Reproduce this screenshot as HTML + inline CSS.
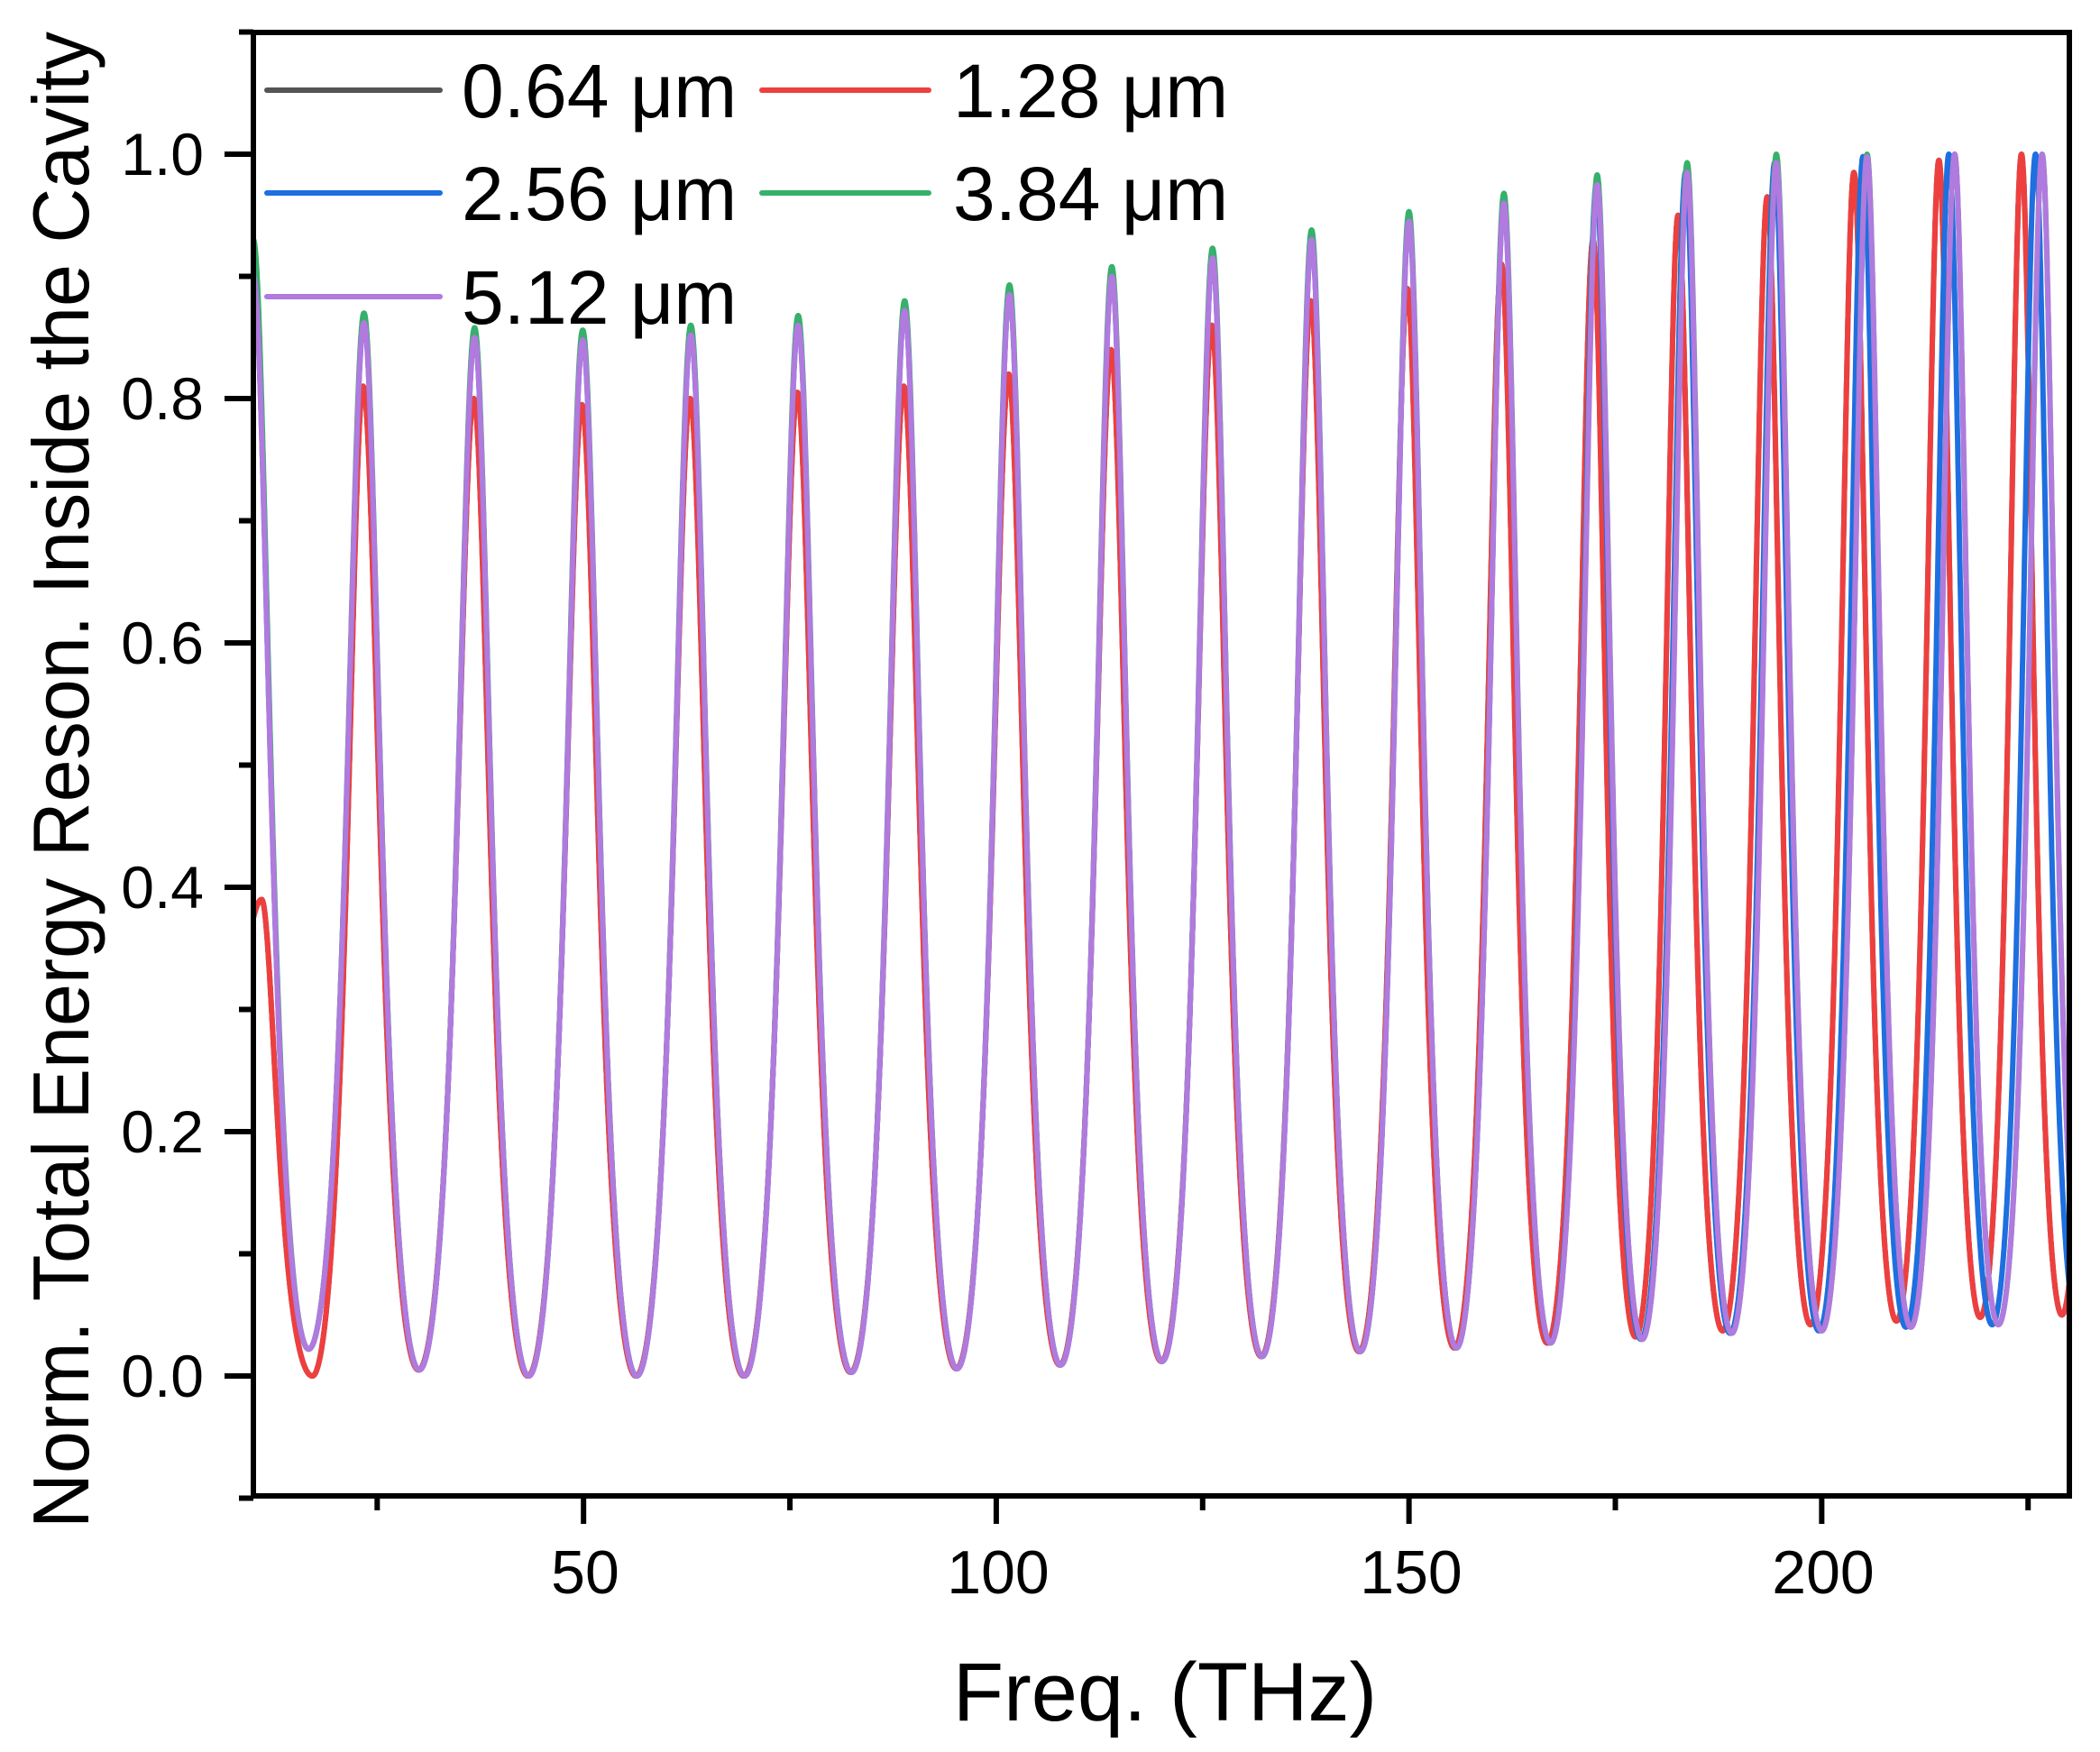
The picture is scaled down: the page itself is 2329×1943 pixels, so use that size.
<!DOCTYPE html>
<html><head><meta charset="utf-8">
<style>
html,body{margin:0;padding:0;background:#fff;}
svg{display:block;}
text{font-family:"Liberation Sans",Arial,sans-serif;fill:#000;}
</style></head>
<body>
<svg id="s" width="2329" height="1943" viewBox="0 0 2329 1943" xmlns="http://www.w3.org/2000/svg">
<defs><clipPath id="c"><rect x="281" y="36" width="2014" height="1623"/></clipPath></defs>
<rect width="2329" height="1943" fill="#fff"/>
<g id="series" clip-path="url(#c)" fill="none" stroke-width="6" stroke-linejoin="round"></g>
<rect x="281" y="36" width="2014" height="1623" fill="none" stroke="#000" stroke-width="6"/>
<g id="ticks" stroke="#000" stroke-width="6"></g>
<g font-size="66" text-anchor="end">
<text x="226" y="1549">0.0</text>
<text x="226" y="1278">0.2</text>
<text x="226" y="1007">0.4</text>
<text x="226" y="736">0.6</text>
<text x="226" y="465">0.8</text>
<text x="226" y="194">1.0</text>
</g>
<g font-size="68" text-anchor="middle">
<text x="649" y="1767">50</text>
<text x="1107" y="1767">100</text>
<text x="1565" y="1767">150</text>
<text x="2022" y="1767">200</text>
</g>
<text x="1292" y="1908" font-size="92" text-anchor="middle">Freq. (THz)</text>
<text transform="translate(98,865) rotate(-90)" font-size="88" text-anchor="middle" textLength="1660" lengthAdjust="spacingAndGlyphs">Norm. Total Energy Reson. Inside the Cavity</text>
<g stroke-width="6" stroke-linecap="round">
<line x1="296" y1="100" x2="488" y2="100" stroke="#555555"/>
<line x1="845" y1="100" x2="1030" y2="100" stroke="#EE3F3F"/>
<line x1="296" y1="214" x2="488" y2="214" stroke="#1E6FDF"/>
<line x1="845" y1="214" x2="1030" y2="214" stroke="#36B06A"/>
<line x1="296" y1="329" x2="488" y2="329" stroke="#B07ADE"/>
</g>
<g font-size="84">
<text x="512" y="130">0.64 μm</text>
<text x="1057" y="130">1.28 μm</text>
<text x="512" y="244">2.56 μm</text>
<text x="1057" y="244">3.84 μm</text>
<text x="512" y="359">5.12 μm</text>
</g>
</svg>
<script>
(function(){
var NS="http://www.w3.org/2000/svg";
var X0=281,X1=2295,F0=10,F1=230;
function px(f){return X0+(f-F0)*(X1-X0)/(F1-F0);}
function py(v){return 1526-v*1355;}
var tk=document.getElementById('ticks');
function ln(x1,y1,x2,y2){var l=document.createElementNS(NS,'line');l.setAttribute('x1',x1);l.setAttribute('y1',y1);l.setAttribute('x2',x2);l.setAttribute('y2',y2);tk.appendChild(l);}
for(var f=25;f<=225;f+=25){var major=(f%50==0);ln(px(f),1659,px(f),1659+(major?31:16));}
for(var v=-0.1;v<=1.101;v+=0.1){var vv=Math.round(v*10);var major=(vv%2==0);ln(281,py(vv/10),281-(major?32:16),py(vv/10));}
var Fc=2.0,a0=1/(1+Fc);
function mk(peaks,hs,mins){
  return function(f){
    var k=0;while(k<peaks.length-2&&f>peaks[k+1])k++;
    var t=(f-peaks[k])/(peaks[k+1]-peaks[k]);
    var s=Math.sin(Math.PI*t);s=s*s;
    var A=(1/(1+Fc*s)-a0)/(1-a0);
    var H=t<0.5?hs[k]:hs[k+1];var m=mins[k];
    return m+(H-m)*A;
  };
}
var Pp=[10,23.4,36.8,49.9,63.0,76.0,88.9,101.6,114.0,126.2,138.2,150.0,161.5,172.8,183.7,194.5,205.5,216.1,226.7,237];
var Ph=[0.9,0.862,0.85,0.848,0.852,0.86,0.872,0.885,0.9,0.915,0.93,0.945,0.96,0.975,0.985,0.993,0.998,1.0,1.0,1.0];
var Pm=[0.022,0.005,0.0,0.0,0.0,0.003,0.006,0.009,0.012,0.016,0.02,0.023,0.027,0.03,0.035,0.037,0.04,0.042,0.045];
var Bp=[10,23.4,36.8,49.9,63.0,76.0,88.9,101.6,114.0,126.2,138.2,150.0,161.5,172.7,183.5,194.3,205.0,215.4,225.9,236];
var Gh=Ph.map(function(h,i){return Math.min(1.0,h+(i==0?0.03:0.008));});
var Rp=[11,23.3,36.7,49.8,62.9,75.9,88.8,101.5,113.9,126.1,138.1,149.8,161.2,172.3,182.6,193.4,203.9,214.2,224.2,234];
var Rh=[0.39,0.81,0.80,0.795,0.80,0.805,0.81,0.82,0.84,0.86,0.88,0.89,0.91,0.93,0.95,0.965,0.985,0.995,1.0,1.0];
var Rm=[0.0,0.005,0,0,0,0.003,0.006,0.009,0.012,0.016,0.02,0.023,0.027,0.032,0.037,0.042,0.045,0.048,0.05];
var Rp2=[-1.4].concat(Rp),Rh2=[0.39].concat(Rh),Rm2=[0.30].concat(Rm);
var series=[
 [mk(Rp2,Rh2,Rm2),"#555555"],
 [mk(Rp2,Rh2,Rm2),"#EE3F3F"],
 [mk(Bp,Ph,Pm),"#1E6FDF"],
 [mk(Pp,Gh,Pm),"#36B06A"],
 [mk(Pp,Ph,Pm),"#B07ADE"]
];
var g=document.getElementById('series');
series.forEach(function(s){
  var d=[];
  for(var f=F0;f<=F1+0.001;f+=0.025){d.push((d.length?'L':'M')+px(f).toFixed(1)+' '+py(s[0](f)).toFixed(1));}
  var p=document.createElementNS(NS,'path');p.setAttribute('d',d.join(''));p.setAttribute('stroke',s[1]);g.appendChild(p);
});
})();
</script>
</body></html>
